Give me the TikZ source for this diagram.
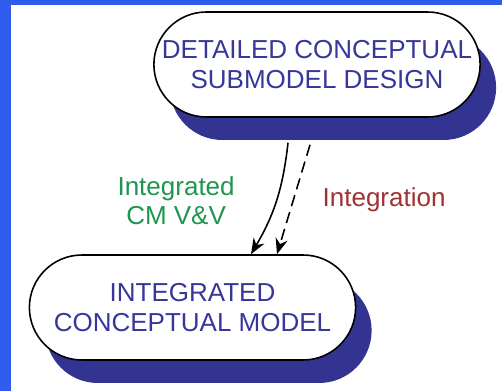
\documentclass[tikz,border=0pt]{standalone}
\usepackage{fontspec}
\setmainfont{Liberation Sans}
\usepackage{tikz}
\usetikzlibrary{shapes.misc,shadows,arrows.meta}

\definecolor{frameblue}{RGB}{48,92,238}
\definecolor{shadownavy}{RGB}{51,51,145}
\definecolor{textnavy}{RGB}{55,55,155}
\definecolor{vvgreen}{RGB}{30,150,80}
\definecolor{integred}{RGB}{160,50,50}

\begin{document}
\begin{tikzpicture}[x=0.02cm, y=-0.02cm,
  stage/.style={rounded rectangle, draw=black, line width=0.9pt, fill=white,
    minimum width=6.76cm, minimum height=2.1cm, align=center, text=textnavy,
    font=\fontsize{14.8}{17}\selectfont,
    drop shadow={shadow xshift=0.32cm, shadow yshift=-0.46cm, fill=shadownavy, opacity=1}},
  lbl/.style={align=center, font=\fontsize{14.8}{17}\selectfont}]
 \fill[frameblue] (0,0) rectangle (502,391);
 \fill[white] (11,5) rectangle (502,391);
 \useasboundingbox (0,0) rectangle (502,391);

 \node[stage] (design) at (317,64.5) {DETAILED CONCEPTUAL\\SUBMODEL DESIGN};
 \node[stage] (icm) at (192.5,307.5) {INTEGRATED\\CONCEPTUAL MODEL};

 \coordinate (vvfrom) at ([xshift=-0.58cm, yshift=-0.5cm]design.south);
 \coordinate (intfrom) at ([xshift=-0.14cm, yshift=-0.54cm]design.south);
 \coordinate (vvto) at ([xshift=1.17cm]icm.north);
 \coordinate (intto) at ([xshift=1.69cm]icm.north);

 \path[-{Stealth[length=9pt, width=7pt]}, line width=0.9pt]
  (vvfrom) edge[bend left=12] node[lbl, text=vvgreen, left=0.7cm] {Integrated\\CM V\&V} (vvto)
  (intfrom) edge[dash pattern=on 6.5pt off 3.5pt] node[lbl, text=integred, right=0.45cm] {Integration} (intto)
 ;
\end{tikzpicture}
\end{document}
